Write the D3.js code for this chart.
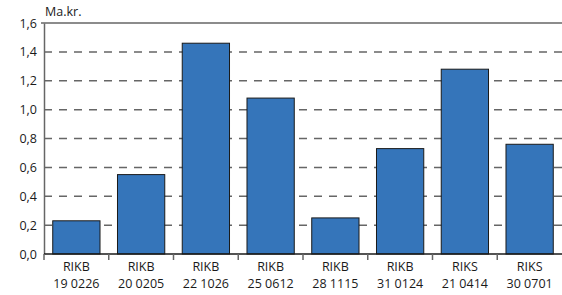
<!DOCTYPE html>
<html>
<head>
<meta charset="utf-8">
<script src="https://cdn.jsdelivr.net/npm/d3@7"></script>
<style>
  body { margin: 0; background: #fff; }
  text { font-family: "Open Sans", "Noto Sans", sans-serif; font-size: 12.5px; fill: #1a1a1a; }
</style>
</head>
<body>
<div id="chart"></div>
<script>
var width = 562, height = 295;

// data
var codes = ["RIKB", "RIKB", "RIKB", "RIKB", "RIKB", "RIKB", "RIKS", "RIKS"];
var dates = ["19 0226", "20 0205", "22 1026", "25 0612", "28 1115", "31 0124", "21 0414", "30 0701"];
var values = [0.23, 0.55, 1.46, 1.08, 0.25, 0.73, 1.28, 0.76];
var yTicks = [0, 0.2, 0.4, 0.6, 0.8, 1.0, 1.2, 1.4, 1.6];

var margin = {top: 23, right: 0, bottom: 41, left: 44};

var svg = d3.select('#chart')
  .append('svg')
  .attr('width', width)
  .attr('height', height);

var x = d3.scaleBand()
  .domain(d3.range(values.length))
  .range([margin.left, width - margin.right])
  .paddingInner(0.27)
  .paddingOuter(0.135);

var band = d3.scaleBand()
  .domain(d3.range(values.length))
  .range([margin.left, width - margin.right]);

var y = d3.scaleLinear()
  .domain([0, 1.6])
  .range([height - margin.bottom, margin.top]);

var fmt = function(d) { return d3.format(".1f")(d).replace(".", ","); };

// grid lines
svg.append("g")
  .selectAll("line")
  .data(yTicks.filter(function(d) { return d > 0 && d < 1.6; }))
  .enter().append("line")
    .attr("x1", margin.left)
    .attr("x2", width)
    .attr("y1", function(d) { return y(d); })
    .attr("y2", function(d) { return y(d); })
    .attr("stroke", "#666")
    .attr("stroke-width", 1.5)
    .attr("stroke-dasharray", "8,7");

// top border line
svg.append("line")
  .attr("x1", margin.left - 3)
  .attr("x2", width)
  .attr("y1", y(1.6))
  .attr("y2", y(1.6))
  .attr("stroke", "#666")
  .attr("stroke-width", 1.5);

// bars
svg.append("g")
  .selectAll("rect")
  .data(values)
  .enter().append("rect")
    .attr("x", function(d, i) { return x(i); })
    .attr("y", function(d) { return y(d); })
    .attr("width", x.bandwidth())
    .attr("height", function(d) { return y(0) - y(d); })
    .attr("fill", "#3575BA")
    .attr("stroke", "#1a1a1a")
    .attr("stroke-width", 1);

// y axis
var yAxis = svg.append("g")
  .attr("transform", "translate(" + margin.left + ",0)")
  .call(d3.axisLeft(y).tickValues(yTicks).tickFormat(fmt).tickSize(0).tickPadding(7));
yAxis.select(".domain").attr("stroke", "#666").attr("stroke-width", 1.5);
yAxis.selectAll("text").attr("font-size", null).attr("font-family", null);

// x axis
var xAxis = svg.append("g")
  .attr("transform", "translate(0," + y(0) + ")");
xAxis.append("line")
  .attr("x1", margin.left)
  .attr("x2", width)
  .attr("stroke", "#1a1a1a")
  .attr("stroke-width", 1.5);
xAxis.selectAll(".tk")
  .data(d3.range(values.length))
  .enter().append("line")
    .attr("class", "tk")
    .attr("x1", function(i) { return band(i); })
    .attr("x2", function(i) { return band(i); })
    .attr("y1", 0)
    .attr("y2", 6)
    .attr("stroke", "#666")
    .attr("stroke-width", 1.5);

var cx = function(i) { return band(i) + band.bandwidth() / 2; };
xAxis.selectAll(".code")
  .data(d3.range(values.length))
  .enter().append("text")
    .attr("class", "code")
    .attr("text-anchor", "middle")
    .attr("x", cx)
    .attr("y", 17)
    .text(function(i) { return codes[i]; });
xAxis.selectAll(".date")
  .data(d3.range(values.length))
  .enter().append("text")
    .attr("class", "date")
    .attr("text-anchor", "middle")
    .attr("x", cx)
    .attr("y", 34)
    .text(function(i) { return dates[i]; });

// unit label
svg.append("text")
  .attr("x", margin.left + 1)
  .attr("y", 16)
  .text("Ma.kr.");
</script>
</body>
</html>
